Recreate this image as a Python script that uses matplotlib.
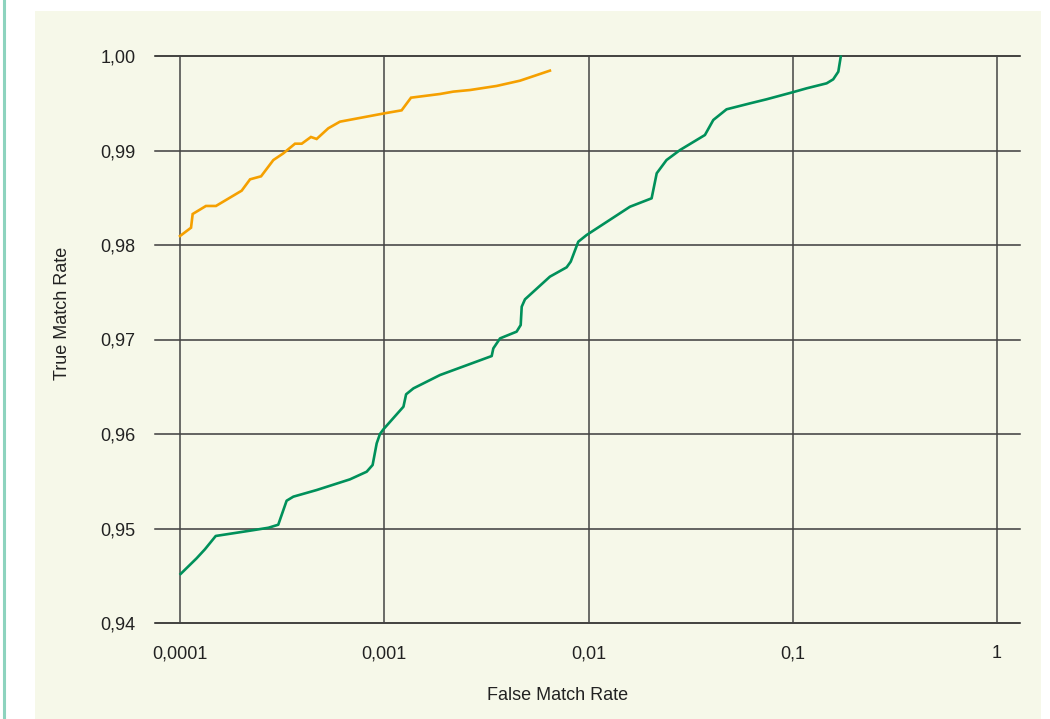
import matplotlib
matplotlib.use("Agg")
import matplotlib.pyplot as plt
from matplotlib.patches import Rectangle
from matplotlib.lines import Line2D
import numpy as np

# ---- data (log10 of False Match Rate, True Match Rate) ----
orange_logfmr = [-4.0, -3.946, -3.938, -3.873, -3.824, -3.698, -3.657, -3.603, -3.543,
                 -3.494, -3.437, -3.404, -3.359, -3.331, -3.274, -3.217, -3.0, -2.915,
                 -2.869, -2.727, -2.662, -2.580, -2.450, -2.335, -2.189]
orange_tmr = [0.98095, 0.98183, 0.98328, 0.98413, 0.98413, 0.98575, 0.98695, 0.98727, 0.98899,
              0.98970, 0.99072, 0.99072, 0.99143, 0.99122, 0.99235, 0.99305, 0.99393, 0.99425,
              0.99559, 0.99598, 0.99623, 0.99640, 0.99683, 0.99739, 0.99845]

green_logfmr = [-3.997, -3.919, -3.878, -3.825, -3.657, -3.567, -3.519, -3.478, -3.445,
                -3.331, -3.168, -3.086, -3.057, -3.037, -3.021, -3.004, -2.906, -2.893,
                -2.857, -2.727, -2.474, -2.466, -2.433, -2.352, -2.332, -2.327, -2.311,
                -2.189, -2.107, -2.087, -2.050, -2.009, -1.797, -1.691, -1.666, -1.618,
                -1.552, -1.430, -1.389, -1.324, -1.209, -1.128, -1.001, -0.932, -0.834,
                -0.802, -0.777, -0.765]
green_tmr = [0.94519, 0.94684, 0.94780, 0.94921, 0.94977, 0.95008, 0.95040, 0.95294, 0.95337,
             0.95407, 0.95520, 0.95601, 0.95672, 0.95901, 0.96000, 0.96050, 0.96289, 0.96420,
             0.96483, 0.96624, 0.96825, 0.96906, 0.97012, 0.97083, 0.97153, 0.97347, 0.97425,
             0.97665, 0.97764, 0.97824, 0.98035, 0.98106, 0.98405, 0.98494, 0.98759, 0.98899,
             0.99005, 0.99164, 0.99323, 0.99436, 0.99499, 0.99542, 0.99616, 0.99658, 0.99711,
             0.99753, 0.99834, 0.99993]

x_ticks = [1e-4, 1e-3, 1e-2, 1e-1, 1]
x_ticklabels = ["0,0001", "0,001", "0,01", "0,1", "1"]
y_ticks = [0.94, 0.95, 0.96, 0.97, 0.98, 0.99, 1.00]
y_ticklabels = ["0,94", "0,95", "0,96", "0,97", "0,98", "0,99", "1,00"]

# ---- figure ----
W, H = 1050, 719
fig = plt.figure(figsize=(W / 100, H / 100), dpi=100, facecolor="white")
plt.rcParams['font.family'] = ['Liberation Sans', 'DejaVu Sans']

panel_col = "#F6F8E9"
fig.patches.append(Rectangle((35 / W, 0), (1041 - 35) / W, (H - 11) / H,
                             transform=fig.transFigure, facecolor=panel_col,
                             edgecolor="none", zorder=-10))
fig.lines.append(Line2D([4 / W, 4 / W], [0, 1], transform=fig.transFigure,
                        color="#8DD3BE", linewidth=2.2, zorder=-10))

ax = fig.add_axes([155 / W, (H - 623) / H, 865 / W, 567 / H])
ax.set_facecolor("none")
ax.set_xscale("log")
ax.set_xlim(10 ** -4.1224, 10 ** 0.1126)
ax.set_ylim(0.94, 1.00)

for s in ax.spines.values():
    s.set_visible(False)

# grid lines
for yv in y_ticks:
    col = "#111111" if yv in (0.94, 1.00) else "#3c3c3c"
    ax.axhline(yv, color=col, linewidth=1.1, zorder=1, clip_on=False)
for xv in x_ticks:
    ax.axvline(xv, color="#444444", linewidth=1.1, zorder=1, clip_on=False)

ax.plot(10 ** np.array(orange_logfmr), orange_tmr, color="#F5A000", linewidth=1.9,
        solid_joinstyle="miter", zorder=3, clip_on=False)
ax.plot(10 ** np.array(green_logfmr), green_tmr, color="#00905A", linewidth=1.9,
        solid_joinstyle="round", zorder=3, clip_on=False)

ax.set_xticks(x_ticks)
ax.set_xticklabels(x_ticklabels)
ax.xaxis.set_minor_locator(matplotlib.ticker.NullLocator())
ax.set_yticks(y_ticks)
ax.set_yticklabels(y_ticklabels)
ax.tick_params(axis="both", length=0, labelsize=13, colors="#222222")
ax.tick_params(axis="x", pad=16)
ax.tick_params(axis="y", pad=14)

ax.set_xlabel("False Match Rate", fontsize=13, color="#222222")
ax.set_ylabel("True Match Rate", fontsize=13, color="#222222")
ax.xaxis.set_label_coords((558 - 155) / 865, -(687 - 623) / 567)
ax.yaxis.set_label_coords(-(155 - 71) / 865, (623 - 313) / 567)

fig.savefig("out.png", dpi=100, facecolor="white")
